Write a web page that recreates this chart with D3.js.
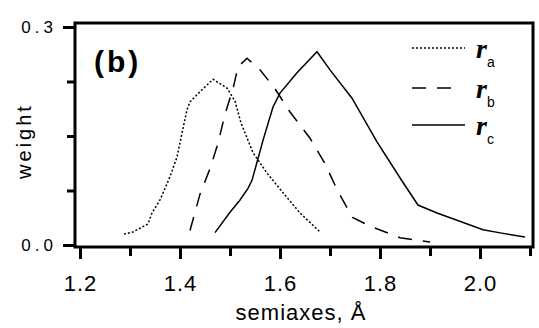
<!DOCTYPE html>
<html lang="en">
<head>
    <meta charset="UTF-8">
    <title>weight vs semiaxes</title>
    <script src="https://d3js.org/d3.v7.min.js"></script>
    <style>
        body {
            margin: 0;
            background: white;
        }
        svg text {
            font-family: "Liberation Sans", Arial, sans-serif;
            fill: black;
        }
        .curve {
            fill: none;
            stroke: black;
            stroke-width: 1.5;
        }
    </style>
</head>
<body>
    <svg></svg>
    <script>
        // values (semiaxis in Å, weight)
        const raX = [1.288, 1.306, 1.336, 1.344, 1.36, 1.38, 1.394, 1.404, 1.414, 1.42, 1.44, 1.466, 1.494, 1.51, 1.522, 1.546, 1.574, 1.606, 1.64, 1.68];
        const raY = [0.015, 0.018, 0.029, 0.044, 0.062, 0.094, 0.121, 0.154, 0.186, 0.197, 0.211, 0.228, 0.216, 0.198, 0.168, 0.127, 0.099, 0.072, 0.044, 0.018];

        const rbX = [1.42, 1.44, 1.46, 1.476, 1.49, 1.506, 1.516, 1.534, 1.56, 1.59, 1.62, 1.66, 1.69, 1.715, 1.745, 1.78, 1.84, 1.90];
        const rbY = [0.02, 0.07, 0.105, 0.14, 0.18, 0.215, 0.245, 0.257, 0.241, 0.215, 0.183, 0.147, 0.112, 0.075, 0.038, 0.026, 0.010, 0.004];

        const rcX = [1.47, 1.50, 1.52, 1.536, 1.544, 1.566, 1.586, 1.60, 1.634, 1.674, 1.70, 1.744, 1.794, 1.846, 1.876, 1.914, 1.954, 2.006, 2.046, 2.09];
        const rcY = [0.017, 0.045, 0.062, 0.078, 0.089, 0.144, 0.19, 0.209, 0.237, 0.266, 0.241, 0.202, 0.142, 0.086, 0.055, 0.044, 0.034, 0.021, 0.016, 0.011];

        const xMajor = [1.2, 1.4, 1.6, 1.8, 2.0];
        const xMinor = [1.3, 1.5, 1.7, 1.9, 2.1];
        const yMajor = [0.0, 0.3];
        const yMinor = [0.075, 0.15, 0.225];

        const seriesNames = ["a", "b", "c"];
        const seriesDash = ["2,2", "14,11", null];

        const width = 539, height = 328;
        const svg = d3.select("svg")
            .attr("width", width)
            .attr("height", height);

        const x = d3.scaleLinear().domain([1.19, 2.106]).range([75, 533]);
        const y = d3.scaleLinear().domain([-0.00275, 0.3055]).range([247, 23]);

        // axes (ticks only, the frame is drawn as a box)
        const xAxis = svg.append("g")
            .attr("transform", `translate(0,${y.range()[0]})`)
            .call(d3.axisBottom(x).tickValues(xMajor).tickSize(12).tickPadding(16).tickFormat(d3.format(".1f")));
        svg.append("g")
            .attr("transform", `translate(0,${y.range()[0]})`)
            .call(d3.axisBottom(x).tickValues(xMinor).tickSize(9).tickFormat(""));

        const yAxis = svg.append("g")
            .attr("transform", `translate(${x.range()[0]},0)`)
            .call(d3.axisLeft(y).tickValues(yMajor).tickSize(12).tickPadding(6).tickFormat(d3.format(".1f")));
        svg.append("g")
            .attr("transform", `translate(${x.range()[0]},0)`)
            .call(d3.axisLeft(y).tickValues(yMinor).tickSize(8).tickFormat(""));

        svg.selectAll(".domain").remove();
        svg.selectAll(".tick line").attr("stroke", "black").attr("stroke-width", 3);
        xAxis.selectAll("text")
            .style("font-size", "22px")
            .style("letter-spacing", "1px");
        yAxis.selectAll("text")
            .style("font-size", "17px")
            .style("letter-spacing", "4px");

        // frame
        svg.append("rect")
            .attr("x", x.range()[0])
            .attr("y", y.range()[1])
            .attr("width", x.range()[1] - x.range()[0])
            .attr("height", y.range()[0] - y.range()[1])
            .attr("fill", "none")
            .attr("stroke", "black")
            .attr("stroke-width", 3);

        // curves
        const line = d3.line().x(d => x(d[0])).y(d => y(d[1]));
        const series = [
            d3.zip(raX, raY),
            d3.zip(rbX, rbY),
            d3.zip(rcX, rcY)
        ];
        svg.append("g")
            .selectAll("path")
            .data(series)
            .join("path")
            .attr("class", "curve")
            .attr("stroke-dasharray", (d, i) => seriesDash[i])
            .attr("d", line);

        // axis titles
        svg.append("text")
            .attr("x", 301)
            .attr("y", 320)
            .attr("text-anchor", "middle")
            .style("font-size", "22px")
            .style("letter-spacing", "1px")
            .text("semiaxes, Å");

        svg.append("text")
            .attr("transform", "translate(31,141) rotate(-90)")
            .attr("text-anchor", "middle")
            .style("font-size", "20px")
            .style("letter-spacing", "3px")
            .text("weight");

        svg.append("text")
            .attr("x", 94)
            .attr("y", 72)
            .style("font-size", "30px")
            .style("font-weight", "bold")
            .style("letter-spacing", "3px")
            .text("(b)");

        // legend
        const legend = svg.append("g")
            .selectAll("g")
            .data(seriesNames)
            .join("g")
            .attr("transform", (d, i) => `translate(412,${[48, 88, 125][i]})`);

        legend.append("line")
            .attr("x1", 0)
            .attr("x2", (d, i) => i === 1 ? 40 : 53)
            .attr("stroke", "black")
            .attr("stroke-width", 1.5)
            .attr("stroke-dasharray", (d, i) => seriesDash[i]);

        const lab = legend.append("text")
            .attr("x", 64)
            .attr("y", 10);
        lab.append("tspan")
            .style("font-family", "'Liberation Serif', serif")
            .style("font-weight", "bold")
            .style("font-style", "italic")
            .style("font-size", "28px")
            .text("r");
        lab.append("tspan")
            .attr("dy", 9)
            .style("font-size", "14px")
            .text(d => d);
    </script>
</body>
</html>
